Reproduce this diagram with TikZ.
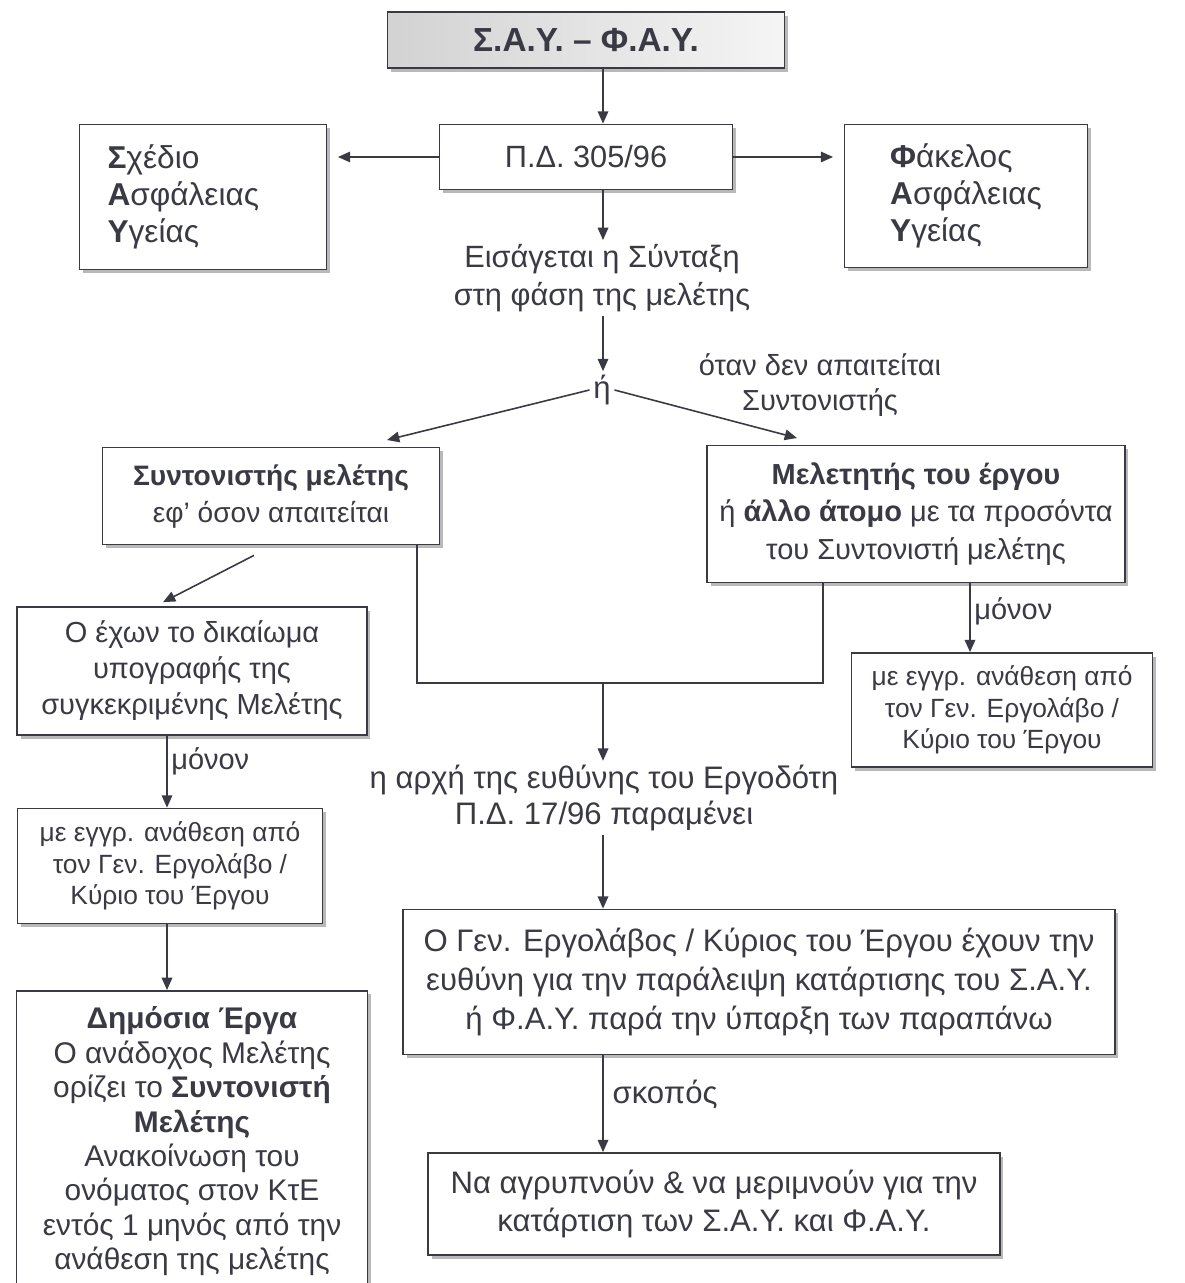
\documentclass[tikz,border=0pt]{standalone}
\usepackage{fontspec}
\setmainfont{Liberation Sans}
\usetikzlibrary{arrows.meta,shadows,calc}
\definecolor{ink}{HTML}{3A3A44}
\begin{document}
\begin{tikzpicture}[x=0.02cm,y=-0.02cm,
  every node/.style={text=ink},
  box/.style={draw=ink, fill=white, line width=1pt, align=center,
    font=\fontsize{17.5}{21}\selectfont,
    drop shadow={shadow xshift=2pt, shadow yshift=-2pt, fill=gray!55, opacity=1}},
  lbl/.style={align=center, font=\fontsize{17.7}{21}\selectfont, inner sep=2pt},
  arr/.style={draw=ink, line width=0.9pt, -{Triangle[length=7pt,width=6pt]}},
  link/.style={draw=ink, line width=0.9pt}]
\useasboundingbox[fill=white] (0,0) rectangle (1184,1283);
\coordinate (spine) at (603,0);
\coordinate (ls) at (167,0);
\coordinate (rs) at (970,0);
\coordinate (jl) at (417,683);
\coordinate (jr) at (823,683);
\coordinate (lt) at (387,440);
\coordinate (rt) at (797,438);
\node[box, minimum width=7.94cm, minimum height=1.12cm, left color=gray!35, right color=gray!8,
  font=\fontsize{19}{21}\selectfont\bfseries] (say) at (586,40) {Σ.Α.Υ. – Φ.Α.Υ.};
\node[box, minimum width=5.86cm, minimum height=1.3cm] (pd) at (586,157) {Π.Δ. 305/96};
\node[box, text width=3.82cm, inner xsep=0.56cm, minimum height=2.9cm, align=left, font=\fontsize{18}{21}\selectfont] (sav) at (203,197)
  {{\bfseries Σ}χέδιο\\{\bfseries Α}σφάλειας\\{\bfseries Υ}γείας};
\node[box, minimum width=4.86cm, minimum height=2.86cm, align=left, font=\fontsize{18}{21}\selectfont] (fav) at (966,196)
  {{\bfseries Φ}άκελος\\{\bfseries Α}σφάλειας\\{\bfseries Υ}γείας};
\node[lbl, font=\fontsize{17.5}{22}\selectfont] (eis) at (602,278) {Εισάγεται η Σύνταξη\\στη φάση της μελέτης};
\node[lbl] (or) at (602,390) {ή};
\node[lbl, font=\fontsize{16.5}{20}\selectfont] (when) at (820,385) {όταν δεν απαιτείται\\Συντονιστής};
\node[box, minimum width=6.74cm, minimum height=1.94cm, font=\fontsize{16}{21}\selectfont] (coord) at (271,496)
  {{\bfseries Συντονιστής μελέτης}\\εφ’ όσον απαιτείται};
\node[box, minimum width=8.36cm, minimum height=2.74cm, font=\fontsize{16.5}{21.3}\selectfont] (design) at (916,514)
  {{\bfseries Μελετητής του έργου}\\ή {\bfseries άλλο άτομο} με τα προσόντα\\του Συντονιστή μελέτης};
\node[box, minimum width=7cm, minimum height=2.56cm, font=\fontsize{16.5}{20.5}\selectfont] (has) at (192,671)
  {Ο έχων το δικαίωμα\\υπογραφής της\\συγκεκριμένης Μελέτης};
\node[box, minimum width=6.1cm, minimum height=2.3cm, font=\fontsize{15}{18}\selectfont] (assign1) at (170,866)
  {με εγγρ. ανάθεση από\\τον Γεν. Εργολάβο /\\Κύριο του Έργου};
\node[box, minimum width=6.02cm, minimum height=2.28cm, font=\fontsize{15}{18}\selectfont] (assign2) at (1002,710)
  {με εγγρ. ανάθεση από\\τον Γεν. Εργολάβο /\\Κύριο του Έργου};
\node[box, anchor=north, minimum width=7.02cm, inner ysep=9pt, font=\fontsize{17}{19.6}\selectfont] (public) at (192,990)
  {{\bfseries Δημόσια Έργα}\\Ο ανάδοχος Μελέτης\\ορίζει το {\bfseries Συντονιστή}\\{\bfseries Μελέτης}\\Ανακοίνωση του\\ονόματος στον ΚτΕ\\εντός 1 μηνός από την\\ανάθεση της μελέτης};
\node[lbl] (resp) at (604,798) {η αρχή της ευθύνης του Εργοδότη\\Π.Δ. 17/96 παραμένει};
\node[box, minimum width=14.24cm, minimum height=2.9cm, font=\fontsize{17.7}{22.4}\selectfont] (big) at (759,982)
  {Ο Γεν. Εργολάβος / Κύριος του Έργου έχουν την\\ευθύνη για την παράλειψη κατάρτισης του Σ.Α.Υ.\\ή Φ.Α.Υ. παρά την ύπαρξη των παραπάνω};
\node[box, minimum width=11.44cm, minimum height=2.04cm, font=\fontsize{17.7}{22}\selectfont] (goal) at (714,1204)
  {Να αγρυπνούν \& να μεριμνούν για την\\κατάρτιση των Σ.Α.Υ. και Φ.Α.Υ.};
\draw[arr] (say.south -| spine) -- (pd.north -| spine);
\draw[arr, shorten >=6pt] (pd.west) -- (pd.west -| sav.east);
\draw[arr, shorten >=6pt] (pd.east) -- (pd.east -| fav.west);
\draw[arr] (pd.south -| spine) -- (eis.north -| spine);
\draw[arr] (eis.south -| spine) -- (or.north -| spine);
\draw[arr] (or.west) -- (lt);
\draw[arr] (or.east) -- (rt);
\draw[arr] ($(coord.south)+(-17,10)$) -- ($(has.north)+(-29,-4)$);
\draw[link] (coord.south -| jl) -- (jl) -- (jr) -- (design.south -| jr);
\draw[arr] (jl -| spine) -- (resp.north -| spine);
\draw[arr] (resp.south -| spine) -- (big.north -| spine);
\draw[arr] (big.south -| spine) -- node[lbl, right, pos=0.4, xshift=3pt] {σκοπός} (goal.north -| spine);
\draw[arr] (design.south -| rs) -- node[lbl, right, pos=0.4, font=\fontsize{16.5}{20}\selectfont] {μόνον} (assign2.north -| rs);
\draw[arr] (has.south -| ls) -- node[lbl, right, pos=0.35, font=\fontsize{16.5}{20}\selectfont] {μόνον} (assign1.north -| ls);
\draw[arr] (assign1.south -| ls) -- (public.north -| ls);
\end{tikzpicture}
\end{document}
